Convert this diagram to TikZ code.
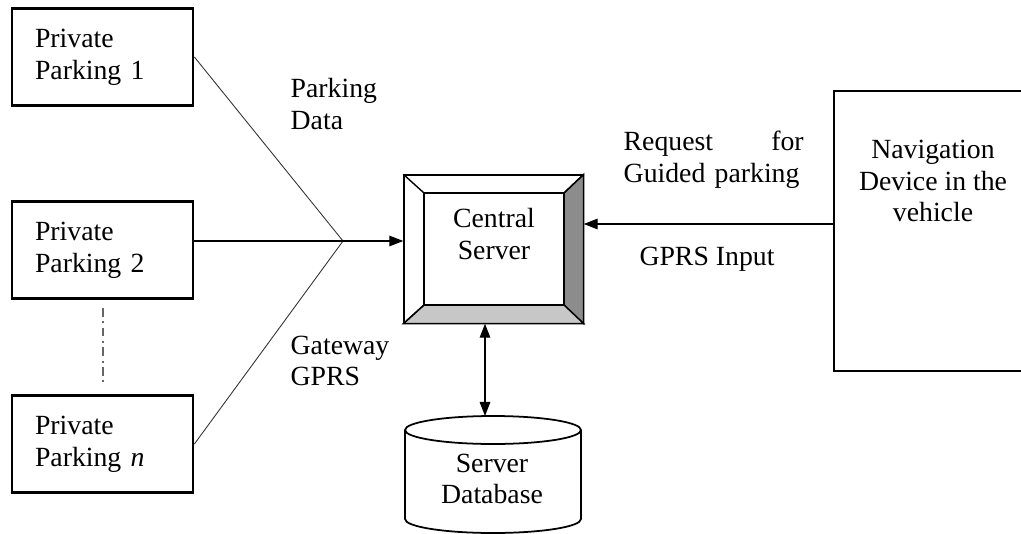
\documentclass[tikz,border=0pt]{standalone}
\usepackage{fontspec}
\setmainfont{Liberation Serif}
\usetikzlibrary{calc,arrows.meta}

\tikzset{
  pbox/.style={draw, line width=1.6pt, minimum width=3.62cm, minimum height=1.94cm,
    text width=2.7cm, inner xsep=0.46cm, align=left},
  lbl/.style={inner sep=0pt, align=left},
  tip/.style={-{Triangle[length=8pt,width=6pt]}},
}

\begin{document}
\begin{tikzpicture}[x=0.02cm, y=-0.02cm, font=\fontsize{15.8}{18}\selectfont, line width=0.8pt]
  %%%%% START %%%%%
  \useasboundingbox (0,0) rectangle (1021,534);

  % parking boxes
  \node[pbox] (p1) at (102.5,57) {Private\\Parking 1};
  \node[pbox] (p2) at (102.5,250) {Private\\Parking 2};
  \node[pbox] (pn) at (102.5,444) {Private\\Parking \textit{n}};
  \coordinate (dtop) at (103,308);
  \coordinate (dbot) at (103,382);
  \draw[line width=1.4pt, gray!80!black, dash pattern=on 5pt off 2.5pt on 1.2pt off 2.5pt] (dtop) -- (dbot);

  % central server
  \node[draw, minimum width=3.58cm, minimum height=2.96cm] (cs) at (493.5,249) {};
  \coordinate (i1) at (424,193);
  \coordinate (i2) at (564,193);
  \coordinate (i3) at (564,305);
  \coordinate (i4) at (424,305);
  \draw[fill=black!45] (cs.north east) -- (i2) -- (i3) -- (cs.south east) -- cycle;
  \draw[fill=black!22] (cs.south west) -- (i4) -- (i3) -- (cs.south east) -- cycle;
  \draw (cs.north west) -- (i1) -- (i2) -- (cs.north east);
  \draw (cs.south west) -- (i4) -- (i1);
  \draw[fill=white] (i1) rectangle (i3);
  \draw (cs.north west) rectangle (cs.south east);
  \node[lbl, align=center] (cstxt) at (494,234) {Central\\Server};

  % navigation device
  \node[draw, minimum width=3.96cm, minimum height=5.6cm] (nav) at (933,231) {};
  \node[lbl, align=center] (navtxt) at (933,181) {Navigation\\Device in the\\vehicle};

  % database
  \draw[line width=1pt] (405,430) -- (405,519) arc (180:0:88 and 14) -- (581,430);
  \draw[line width=1pt] (493,430) ellipse (88 and 14);
  \coordinate (dbtop) at (485,416);
  \node[lbl, align=center] (dbtxt) at (492,479) {Server\\Database};

  % connectors
  \coordinate (jn) at (343,241);
  \draw[line width=0.5pt, black!80] (p1.east) -- (jn) -- (pn.east);
  \draw (p2.east |- jn) -- (jn);
  \draw[tip] (jn) -- (jn -| cs.west);
  \coordinate (navin) at (834,224);
  \draw[tip] (navin) -- (navin -| cs.east);
  \draw[{Triangle[length=8pt,width=6pt]}-{Triangle[length=8pt,width=6pt]}] (dbtop |- cs.south) -- (dbtop);

  % labels
  \node[lbl, anchor=west] (pdata) at (290,104) {Parking\\Data};
  \node[lbl, anchor=west] (gw) at (290,361) {Gateway\\GPRS};
  \node[lbl, anchor=west, text width=3.6cm] (req) at (623,160) {Request\hfill for\\Guided parking};
  \node[lbl] (gin) at (707,259) {GPRS Input};
  %%%%% END %%%%%
\end{tikzpicture}
\end{document}
